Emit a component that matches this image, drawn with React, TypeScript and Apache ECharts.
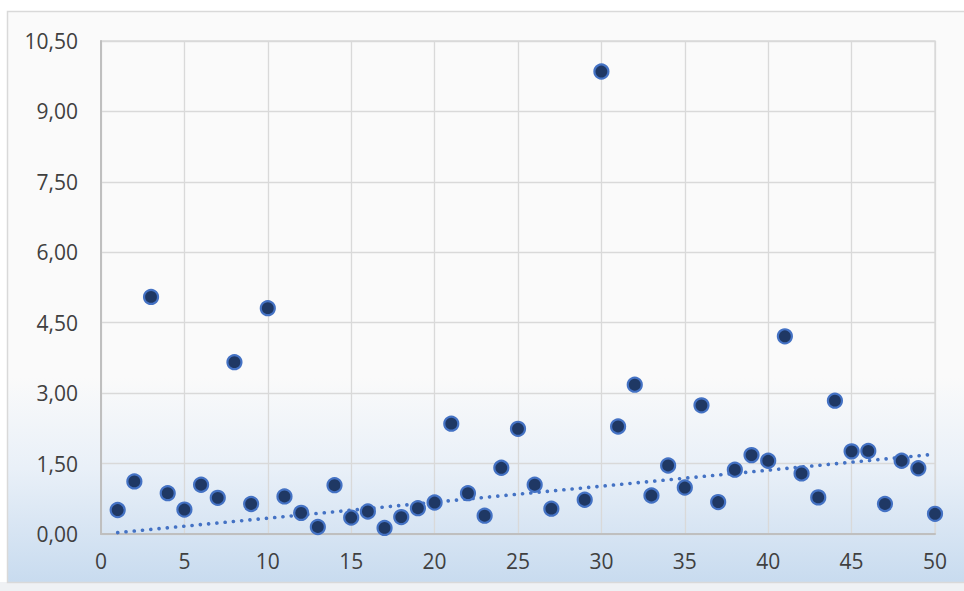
import React, { useEffect, useRef } from "react";
import * as echarts from "echarts";

const xValues = [
  1, 2, 3, 4, 5, 6, 7, 8, 9, 10, 11, 12, 13, 14, 15, 16, 17, 18, 19, 20, 21, 22, 23, 24, 25,
  26, 27, 29, 30, 31, 32, 33, 34, 35, 36, 37, 38, 39, 40, 41, 42, 43, 44, 45, 46, 47, 48, 49, 50,
];
const yValues = [
  0.51, 1.12, 5.05, 0.87, 0.52, 1.05, 0.77, 3.66, 0.64, 4.81, 0.8, 0.45, 0.15, 1.04, 0.35, 0.48,
  0.13, 0.36, 0.55, 0.67, 2.35, 0.87, 0.39, 1.41, 2.24, 1.05, 0.54, 0.73, 9.85, 2.29, 3.18, 0.82,
  1.46, 0.99, 2.74, 0.68, 1.37, 1.68, 1.56, 4.21, 1.29, 0.78, 2.84, 1.76, 1.77, 0.64, 1.56, 1.4,
  0.43,
];
// trendline endpoints
const trendX = [1, 50];
const trendY = [0.03, 1.7];

const xTicks = { min: 0, max: 50, interval: 5 };
const yTicks = { min: 0, max: 10.5, interval: 1.5 };

export default function App() {
  const ref = useRef<HTMLDivElement>(null);
  useEffect(() => {
    const chart = echarts.init(ref.current!, null, { renderer: "svg" });
    const points = xValues.map((x, i) => [x, yValues[i]]);
    const trend = trendX.map((x, i) => [x, trendY[i]]);
    chart.setOption({
      animation: false,
      backgroundColor: "#ffffff",
      graphic: [
        {
          type: "rect",
          z: -10,
          silent: true,
          shape: { x: 0, y: 582, width: 964, height: 9 },
          style: { fill: "#eff1f4" },
        },
        {
          type: "rect",
          z: -10,
          silent: true,
          shape: { x: 7.5, y: 11.5, width: 970, height: 571 },
          style: {
            fill: new echarts.graphic.LinearGradient(0, 0, 0, 1, [
              { offset: 0, color: "#fafafa" },
              { offset: 0.64, color: "#fafafa" },
              { offset: 0.8, color: "#e9f0f8" },
              { offset: 1, color: "#c8dbef" },
            ]),
            stroke: "#d9d9d9",
            lineWidth: 1.5,
          },
        },
      ],
      grid: { left: 101, top: 41, right: 29, bottom: 57, show: true, borderColor: "#d9d9d9", borderWidth: 1.3 },
      xAxis: {
        type: "value",
        min: xTicks.min,
        max: xTicks.max,
        interval: xTicks.interval,
        axisLine: { show: true, onZero: false, lineStyle: { color: "#bfbfbf", width: 2 } },
        axisTick: { show: false },
        splitLine: { show: true, lineStyle: { color: "#d9d9d9", width: 1.3 } },
        axisLabel: { color: "#404040", fontSize: 21, fontFamily: "'Open Sans', 'Noto Sans', sans-serif", margin: 16 },
      },
      yAxis: {
        type: "value",
        min: yTicks.min,
        max: yTicks.max,
        interval: yTicks.interval,
        axisLine: { show: true, onZero: false, lineStyle: { color: "#bfbfbf", width: 2 } },
        axisTick: { show: false },
        splitLine: { show: true, lineStyle: { color: "#d9d9d9", width: 1.3 } },
        axisLabel: {
          color: "#404040",
          fontSize: 21,
          fontFamily: "'Open Sans', 'Noto Sans', sans-serif",
          margin: 23,
          formatter: (v: number) => v.toFixed(2).replace(".", ","),
        },
      },
      series: [
        {
          type: "line",
          data: trend,
          showSymbol: false,
          symbol: "none",
          z: 3,
          lineStyle: { color: "#4472c4", width: 3.6, type: [0.1, 8.2], cap: "round" },
        },
        {
          type: "scatter",
          data: points,
          symbol: "circle",
          symbolSize: 14,
          z: 4,
          itemStyle: { color: "#1f3864", borderColor: "#4472c4", borderWidth: 2.2, opacity: 1 },
        },
      ],
    });
    return () => chart.dispose();
  }, []);
  return (
    <div
      ref={ref}
      style={{ position: "fixed", left: 0, top: 0, width: 964, height: 591 }}
    />
  );
}
